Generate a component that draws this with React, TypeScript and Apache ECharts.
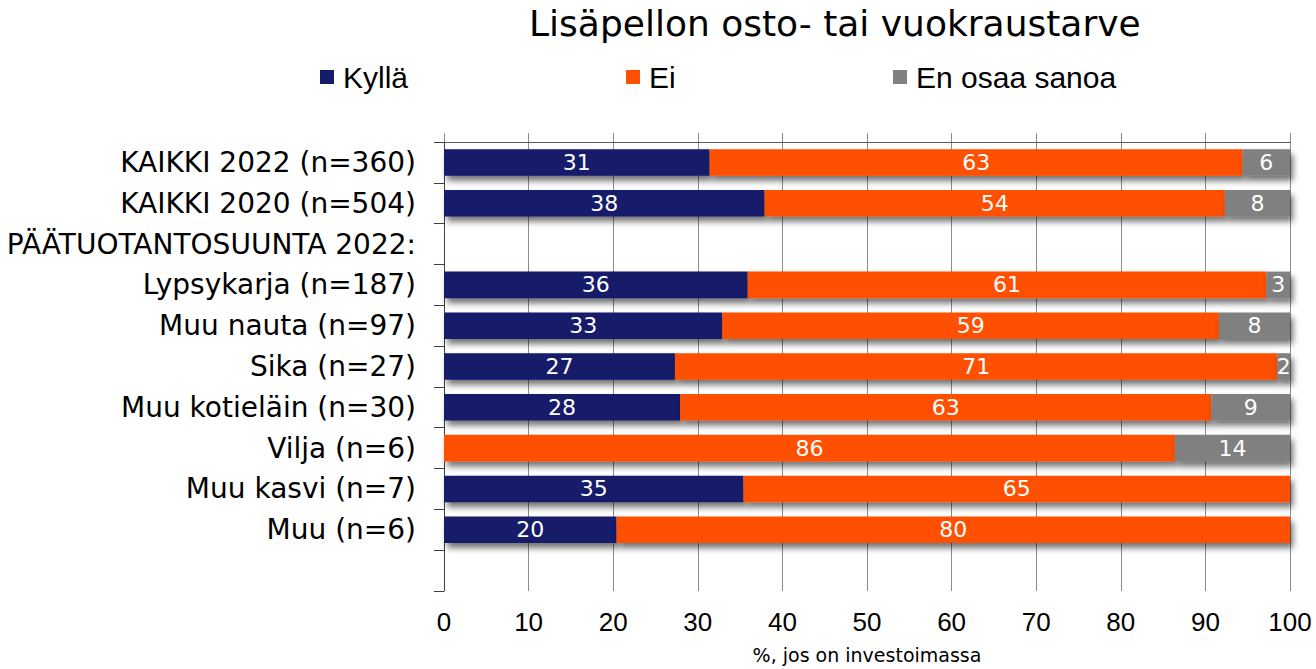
import React, { useEffect, useRef } from "react";
import * as echarts from "echarts";

const categories = [
  "KAIKKI 2022 (n=360)",
  "KAIKKI 2020 (n=504)",
  "PÄÄTUOTANTOSUUNTA 2022:",
  "Lypsykarja (n=187)",
  "Muu nauta (n=97)",
  "Sika (n=27)",
  "Muu kotieläin (n=30)",
  "Vilja (n=6)",
  "Muu kasvi (n=7)",
  "Muu (n=6)",
  "",
];
const kylla = [31.4, 37.9, null, 35.9, 32.9, 27.3, 27.9, 0, 35.4, 20.4, null];
const ei = [63.0, 54.4, null, 61.3, 58.7, 71.2, 62.8, 86.4, 64.6, 79.6, null];
const eos = [5.6, 7.7, null, 2.8, 8.4, 1.5, 9.3, 13.6, 0, 0, null];
const seriesNames = ["Kyllä", "Ei", "En osaa sanoa"];
const colors = ["#141B69", "#FF5000", "#808080"];
const xTicks = { min: 0, max: 100, interval: 10 };

export default function App() {
  const ref = useRef<HTMLDivElement>(null);
  useEffect(() => {
    if (!ref.current) return;
    const chart = echarts.init(ref.current, undefined, { renderer: "svg" });
    const label = {
      show: true,
      position: "inside" as const,
      color: "#ffffff",
      fontFamily: "DejaVu Sans",
      fontSize: 22,
      formatter: (p: any) => (p.value > 0 ? String(Math.round(p.value)) : ""),
    };
    const shadow = {
      shadowColor: "rgba(0,0,0,0.55)",
      shadowBlur: 6,
      shadowOffsetX: 3,
      shadowOffsetY: 5,
    };
    const datas = [kylla, ei, eos];
    const legendLefts = [315, 621, 888];
    chart.setOption({
      animation: false,
      title: {
        text: "Lisäpellon osto- tai vuokraustarve",
        left: 524,
        top: 0,
        textStyle: {
          fontFamily: "DejaVu Sans",
          fontWeight: "normal",
          fontSize: 36,
          color: "#000",
        },
      },
      legend: seriesNames.map((n, i) => ({
        data: [n],
        left: legendLefts[i],
        top: 57,
        icon: "rect",
        itemWidth: 14,
        itemHeight: 14,
        textStyle: {
          fontFamily: "Liberation Sans",
          fontSize: 30,
          color: "#000",
          padding: [0, 0, 0, 4],
        },
      })),
      grid: { left: 444, right: 26, top: 142, bottom: 73, containLabel: false },
      xAxis: [
        {
          type: "value",
          position: "bottom",
          ...xTicks,
          axisLine: { show: false },
          axisTick: { show: false },
          splitLine: { show: true, lineStyle: { color: "#8c8c8c", width: 1 } },
          axisLabel: {
            fontFamily: "Liberation Sans",
            fontSize: 26,
            color: "#000",
            margin: 18,
          },
          name: "%, jos on investoimassa",
          nameLocation: "middle",
          nameGap: 54,
          nameTextStyle: { fontFamily: "DejaVu Sans", fontSize: 19, color: "#000" },
        },
        {
          type: "value",
          position: "top",
          ...xTicks,
          axisLine: { show: true, lineStyle: { color: "#595959", width: 1 } },
          axisTick: { show: true, length: 9, lineStyle: { color: "#8c8c8c" } },
          axisLabel: { show: false },
          splitLine: { show: false },
        },
      ],
      yAxis: {
        type: "category",
        data: categories,
        inverse: true,
        axisLine: { show: true, lineStyle: { color: "#404040", width: 1 } },
        axisTick: { show: true, length: 10, lineStyle: { color: "#404040" } },
        axisLabel: {
          fontFamily: "DejaVu Sans",
          fontSize: 28,
          color: "#000",
          margin: 28,
        },
      },
      series: seriesNames.map((n, i) => ({
        name: n,
        type: "bar",
        stack: "total",
        barWidth: "65%",
        data: datas[i],
        itemStyle: { color: colors[i], ...shadow },
        label,
      })),
    });
    return () => chart.dispose();
  }, []);
  return (
    <div
      ref={ref}
      style={{ position: "fixed", left: 0, top: 0, width: 1316, height: 669, background: "#fff" }}
    />
  );
}
